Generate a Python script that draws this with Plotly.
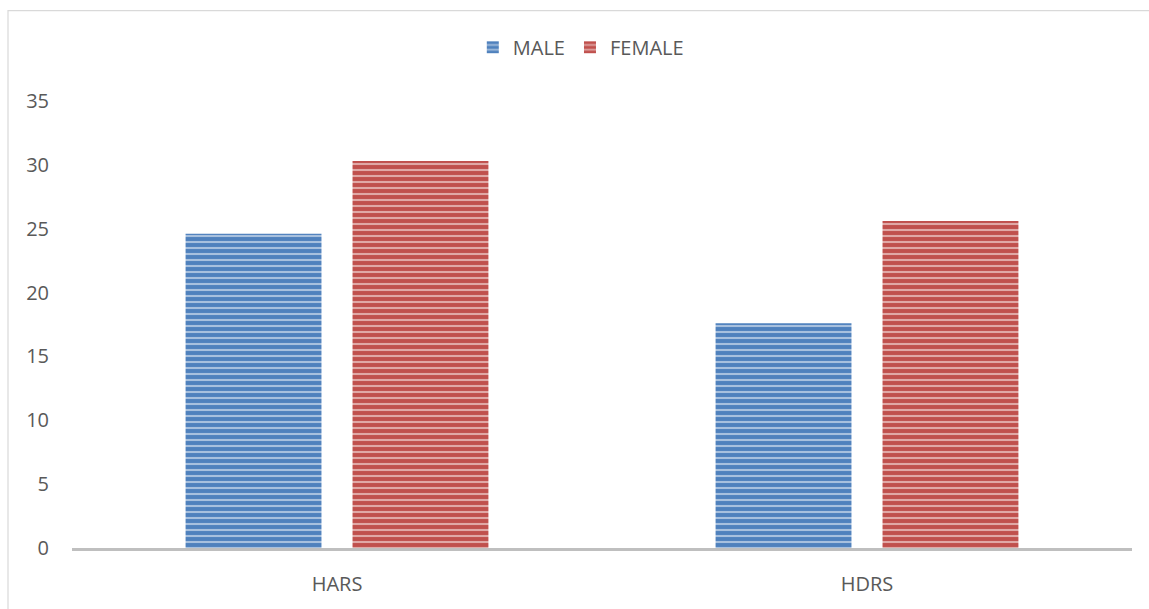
import plotly.graph_objects as go

categories = ["HARS", "HDRS"]
male = [24.6, 17.6]
female = [30.3, 25.6]
y_ticks = [0, 5, 10, 15, 20, 25, 30, 35]

L, R, T, B = 72, 17, 101, 58
W, H = 1149, 609
pw, ph = W - L - R, H - T - B

fig = go.Figure()
fig.add_trace(go.Bar(
    x=categories, y=male, name="MALE",
    marker=dict(color="#4F81BD", line=dict(width=0),
                pattern=dict(shape="-", fgcolor="#ffffff", fillmode="overlay", size=6, solidity=0.35)),
))
fig.add_trace(go.Bar(
    x=categories, y=female, name="FEMALE",
    marker=dict(color="#C0504D", line=dict(width=0),
                pattern=dict(shape="-", fgcolor="#ffffff", fillmode="overlay", size=6, solidity=0.35)),
))

fig.update_layout(
    width=W, height=H,
    margin=dict(l=L, r=R, t=T, b=B),
    paper_bgcolor="white", plot_bgcolor="white",
    barmode="group", bargap=0.37, bargroupgap=0.186,
    font=dict(family="Open Sans, sans-serif", color="#595959", size=20),
    legend=dict(orientation="h", x=0.48, xanchor="center", y=1.0 + (T - 47) / ph, yanchor="middle",
                font=dict(size=20, color="#595959"), itemwidth=30, tracegroupgap=0),
    showlegend=True,
)
fig.update_xaxes(showline=True, linecolor="#bfbfbf", linewidth=2.5, showgrid=False,
                 ticks="", ticklabelstandoff=16, tickfont=dict(size=20, color="#595959"))
fig.update_yaxes(range=[0, 35], tickvals=y_ticks, showgrid=False, zeroline=False, showline=False,
                 ticks="", ticklabelstandoff=22, tickfont=dict(size=20, color="#595959"))

fig.add_shape(type="rect", xref="paper", yref="paper",
              x0=(8 - L) / pw, x1=(W + 20 - L) / pw,
              y0=-(H + 20 - (T + ph)) / ph, y1=(T + ph - 10) / ph,
              line=dict(color="#d9d9d9", width=1.2), fillcolor="rgba(0,0,0,0)", layer="below")

fig.write_html("out.html")
